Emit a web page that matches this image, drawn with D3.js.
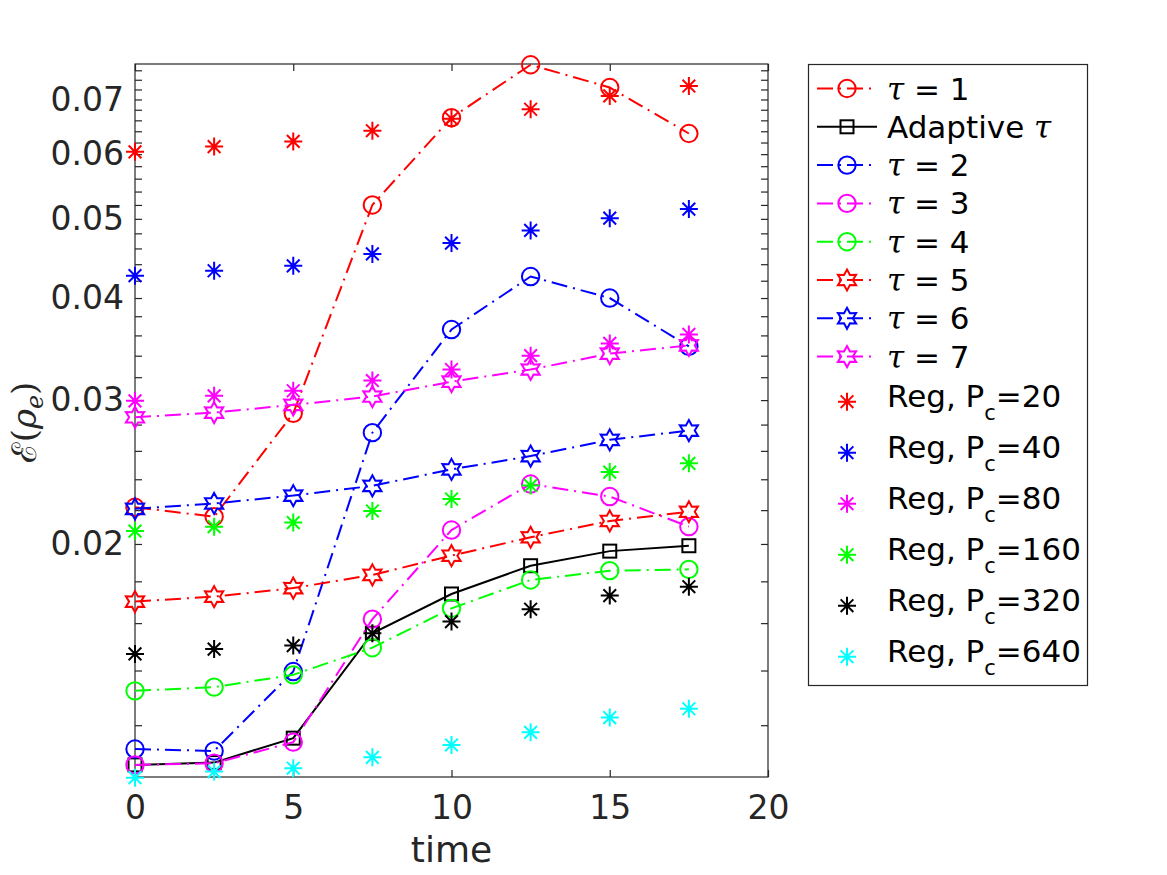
<!DOCTYPE html>
<html>
<head>
<meta charset="utf-8">
<script src="https://cdn.jsdelivr.net/npm/d3@7"></script>
<style>
  html, body { margin: 0; padding: 0; background: #fff; }
</style>
</head>
<body>
<div id="graph"></div>
<script>
// Data (y is on a log scale)
const time = [0, 2.5, 5, 7.5, 10, 12.5, 15, 17.5];

const tau1     = [0.02218, 0.0216, 0.0289, 0.0520, 0.0665, 0.0772, 0.0724, 0.0636];
const adaptive = [0.01073, 0.0108, 0.01157, 0.01555, 0.01737, 0.01881, 0.0196, 0.0199];
const tau2     = [0.01122, 0.01116, 0.01396, 0.02737, 0.0366, 0.0425, 0.0400, 0.0349];
const tau3     = [0.01073, 0.01078, 0.01144, 0.01618, 0.0208, 0.02368, 0.02286, 0.0210];
const tau4     = [0.01322, 0.01336, 0.01383, 0.01493, 0.01668, 0.01807, 0.01855, 0.01862];
const tau5     = [0.0170, 0.01724, 0.01766, 0.01833, 0.01935, 0.02038, 0.02134, 0.0219];
const tau6     = [0.02208, 0.02242, 0.02292, 0.02356, 0.02468, 0.02562, 0.02682, 0.02753];
const tau7     = [0.02858, 0.02896, 0.0296, 0.0303, 0.0316, 0.0327, 0.0342, 0.0350];

const reg20  = [0.0604, 0.0613, 0.0622, 0.0641, 0.0663, 0.0681, 0.0707, 0.0727];
const reg40  = [0.0426, 0.0432, 0.0438, 0.0453, 0.0467, 0.0484, 0.0501, 0.0514];
const reg80  = [0.02994, 0.03036, 0.0308, 0.0317, 0.0327, 0.0340, 0.0352, 0.0361];
const reg160 = [0.02074, 0.0210, 0.02124, 0.02195, 0.0227, 0.02358, 0.02449, 0.0251];
const reg320 = [0.01467, 0.01487, 0.01502, 0.01555, 0.01607, 0.01664, 0.01729, 0.01773];
const reg640 = [0.01035, 0.01053, 0.01063, 0.01096, 0.01135, 0.01176, 0.01226, 0.01257];

const xTicks = [0, 5, 10, 15, 20];
const yTicks = d3.range(12, 77, 2).map(d => d / 1000);
const yLabels = [0.02, 0.03, 0.04, 0.05, 0.06, 0.07];

// Series, in plotting / legend order
const series = [
    { name: "1", values: tau1, color: "#ff0000", marker: "circle", dash: true },
    { name: "Adaptive", values: adaptive, color: "#000000", marker: "square", dash: false },
    { name: "2", values: tau2, color: "#0000ff", marker: "circle", dash: true },
    { name: "3", values: tau3, color: "#ff00ff", marker: "circle", dash: true },
    { name: "4", values: tau4, color: "#00ff00", marker: "circle", dash: true },
    { name: "5", values: tau5, color: "#ff0000", marker: "hexagram", dash: true },
    { name: "6", values: tau6, color: "#0000ff", marker: "hexagram", dash: true },
    { name: "7", values: tau7, color: "#ff00ff", marker: "hexagram", dash: true }
];
const regSeries = [
    { pc: "20", values: reg20, color: "#ff0000" },
    { pc: "40", values: reg40, color: "#0000ff" },
    { pc: "80", values: reg80, color: "#ff00ff" },
    { pc: "160", values: reg160, color: "#00ff00" },
    { pc: "320", values: reg320, color: "#000000" },
    { pc: "640", values: reg640, color: "#00ffff" }
];

// Dimensions
const width = 1167;
const height = 875;
const marginLeft = 135;
const marginRight = 399;
const marginTop = 64;
const marginBottom = 98;
const axisColor = "#262626";
const font = "DejaVu Sans, Verdana, sans-serif";
const lw = 2;
const dashDot = "16,6,2,6";

const x = d3.scaleLinear()
    .domain([0, 20])
    .range([marginLeft, width - marginRight]);

const y = d3.scaleLog()
    .domain([0.01037, 0.07736])
    .range([height - marginBottom, marginTop]);

const svg = d3.create("svg")
    .attr("width", width)
    .attr("height", height)
    .style("background", "#fff");

// Marker shapes
function hexagram(R) {
    const pts = [];
    for (let i = 0; i < 12; i++) {
        const r = i % 2 === 0 ? R : R * 0.56;
        const a = -Math.PI / 2 + i * Math.PI / 6;
        pts.push([r * Math.cos(a), r * Math.sin(a)]);
    }
    return "M" + pts.map(p => p[0].toFixed(2) + "," + p[1].toFixed(2)).join("L") + "Z";
}
function asterisk(s) {
    const d = s * Math.SQRT1_2;
    return `M0,${-s}L0,${s}M${-s},0L${s},0M${-d},${-d}L${d},${d}M${-d},${d}L${d},${-d}`;
}
function drawMarker(g, type, color, cx, cy) {
    if (type === "circle") {
        g.append("circle").attr("cx", cx).attr("cy", cy).attr("r", 8.7)
            .attr("fill", "none").attr("stroke", color).attr("stroke-width", lw);
    } else if (type === "square") {
        g.append("rect").attr("x", cx - 6.5).attr("y", cy - 6.5)
            .attr("width", 13).attr("height", 13)
            .attr("fill", "none").attr("stroke", color).attr("stroke-width", lw);
    } else if (type === "hexagram") {
        g.append("path").attr("d", hexagram(10.5)).attr("transform", `translate(${cx},${cy})`)
            .attr("fill", "none").attr("stroke", color).attr("stroke-width", lw);
    } else {
        g.append("path").attr("d", asterisk(9)).attr("transform", `translate(${cx},${cy})`)
            .attr("fill", "none").attr("stroke", color).attr("stroke-width", lw);
    }
}

// Axes box and ticks
const axes = svg.append("g");
axes.append("rect")
    .attr("x", marginLeft).attr("y", marginTop)
    .attr("width", width - marginRight - marginLeft)
    .attr("height", height - marginBottom - marginTop)
    .attr("fill", "none").attr("stroke", axisColor).attr("stroke-width", 1.2);

const tickLen = 7;
axes.append("g")
    .attr("transform", `translate(0,${height - marginBottom})`)
    .call(d3.axisBottom(x).tickValues(xTicks).tickSizeInner(-tickLen).tickSizeOuter(0).tickPadding(19))
    .call(g => g.select(".domain").remove());
axes.append("g")
    .attr("transform", `translate(0,${marginTop})`)
    .call(d3.axisTop(x).tickValues(xTicks).tickSizeInner(-tickLen).tickSizeOuter(0).tickFormat(""))
    .call(g => g.select(".domain").remove());
axes.append("g")
    .attr("transform", `translate(${marginLeft},0)`)
    .call(d3.axisLeft(y).tickValues(yTicks).tickSizeInner(-tickLen).tickSizeOuter(0).tickPadding(11)
        .tickFormat(d => yLabels.some(v => Math.abs(v - d) < 1e-6) ? d3.format(".2f")(d) : ""))
    .call(g => g.select(".domain").remove());
axes.append("g")
    .attr("transform", `translate(${width - marginRight},0)`)
    .call(d3.axisRight(y).tickValues(yTicks).tickSizeInner(-tickLen).tickSizeOuter(0).tickFormat(""))
    .call(g => g.select(".domain").remove());

axes.selectAll(".tick line").attr("stroke", axisColor).attr("stroke-width", 1.2);
axes.selectAll(".tick text")
    .attr("fill", axisColor)
    .style("font-family", font)
    .style("font-size", "33px");

// Axis labels
svg.append("text")
    .attr("x", (marginLeft + width - marginRight) / 2)
    .attr("y", 862)
    .attr("text-anchor", "middle")
    .attr("fill", axisColor)
    .style("font-family", font)
    .style("font-size", "36px")
    .text("time");

const ylab = svg.append("text")
    .attr("transform", `translate(36,${(marginTop + height - marginBottom) / 2 + 2}) rotate(-90)`)
    .attr("text-anchor", "middle")
    .attr("fill", axisColor)
    .style("font-family", "DejaVu Serif, serif")
    .style("font-size", "34px");
ylab.append("tspan").text("\u2130(");
ylab.append("tspan").style("font-style", "italic").text("\u03c1");
ylab.append("tspan").style("font-style", "italic").style("font-size", "24px").attr("dy", 7).text("e");
ylab.append("tspan").attr("dy", -7).text(")");

// Lines
const line = d3.line()
    .x((d, i) => x(time[i]))
    .y(d => y(d));

const plot = svg.append("g");
series.forEach(s => {
    plot.append("path")
        .attr("d", line(s.values))
        .attr("fill", "none")
        .attr("stroke", s.color)
        .attr("stroke-width", lw)
        .attr("stroke-dasharray", s.dash ? dashDot : null);
    s.values.forEach((v, i) => drawMarker(plot, s.marker, s.color, x(time[i]), y(v)));
});
regSeries.forEach(s => {
    s.values.forEach((v, i) => drawMarker(plot, "asterisk", s.color, x(time[i]), y(v)));
});

// Legend
const legend = svg.append("g");
legend.append("rect")
    .attr("x", 808.5).attr("y", 64.5)
    .attr("width", 279).attr("height", 621)
    .attr("fill", "#fff").attr("stroke", axisColor).attr("stroke-width", 1.2);

series.forEach((s, i) => {
    const ly = 88.5 + i * 38.3;
    legend.append("line")
        .attr("x1", 817).attr("x2", 877).attr("y1", ly).attr("y2", ly)
        .attr("stroke", s.color).attr("stroke-width", lw)
        .attr("stroke-dasharray", s.dash ? dashDot : null);
    drawMarker(legend, s.marker, s.color, 847, ly);
    const t = legend.append("text")
        .attr("x", 887).attr("y", ly + 11)
        .attr("fill", "#000")
        .style("font-family", font)
        .style("font-size", "31px");
    if (s.name === "Adaptive") {
        t.append("tspan").text("Adaptive ");
        t.append("tspan").style("font-family", "DejaVu Serif, serif").style("font-style", "italic").text("\u03c4");
    } else {
        t.append("tspan").style("font-family", "DejaVu Serif, serif").style("font-style", "italic").text("\u03c4");
        t.append("tspan").text(" = " + s.name);
    }
});

regSeries.forEach((s, i) => {
    const ly = 401.7 + i * 51;
    drawMarker(legend, "asterisk", s.color, 847, ly);
    const t = legend.append("text")
        .attr("x", 887).attr("y", ly + 5)
        .attr("fill", "#000")
        .style("font-family", font)
        .style("font-size", "31px");
    t.append("tspan").text("Reg, P");
    t.append("tspan").style("font-size", "21px").attr("dy", 13).text("c");
    t.append("tspan").attr("dy", -13).text("=" + s.pc);
});

document.getElementById("graph").appendChild(svg.node());
</script>
</body>
</html>
